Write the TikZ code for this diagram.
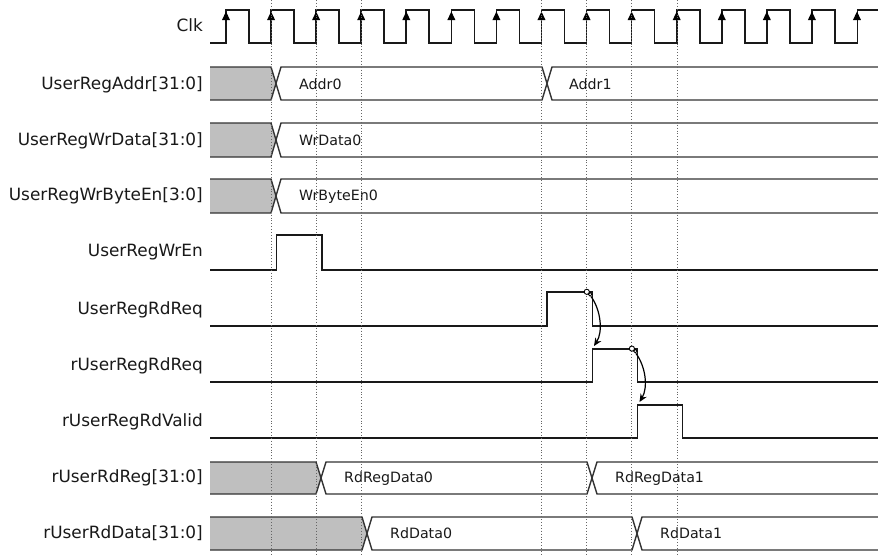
\documentclass[tikz,border=0pt]{standalone}
\usepackage{fontspec}
\setmainfont{DejaVu Sans}
\usetikzlibrary{arrows.meta}
\begin{document}
\begin{tikzpicture}[x=1pt,y=-1pt,
  siglabel/.style={anchor=base east,inner sep=0pt,font=\fontsize{16.9}{18}\selectfont,text=black!90},
  datalabel/.style={anchor=base west,inner sep=0pt,font=\fontsize{14.2}{16}\selectfont,text=black!90},
  wave/.style={line width=1.6pt,black!90,line join=miter},
  busline/.style={line width=1.4pt,black!80,line join=miter},
  busfill/.style={fill=black!25,draw=none},
  guide/.style={black!60,dotted,line width=0.9pt},
  cause/.style={line width=1.2pt,black,-{Stealth[length=8pt,width=7pt]}},
  dotmark/.style={draw=black,fill=white,line width=0.9pt}
]
\useasboundingbox (0,0) rectangle (878,555);
\fill[white] (0,0) rectangle (878,555);

% ---- labels ----
\node[siglabel] (lClk)  at (203,31.7)  {Clk};
\node[siglabel] (lAddr) at (203,89.3)  {UserRegAddr[31:0]};
\node[siglabel] (lWrD)  at (203,145)   {UserRegWrData[31:0]};
\node[siglabel] (lBE)   at (203,200.5) {UserRegWrByteEn[3:0]};
\node[siglabel] (lWrEn) at (203,256.5) {UserRegWrEn};
\node[siglabel] (lRdRq) at (203,314)   {UserRegRdReq};
\node[siglabel] (lrRq)  at (203,370)   {rUserRegRdReq};
\node[siglabel] (lrVal) at (203,426.5) {rUserRegRdValid};
\node[siglabel] (lrReg) at (203,482)   {rUserRdReg[31:0]};
\node[siglabel] (lrDat) at (203,538.5) {rUserRdData[31:0]};

% ---- clock ----
\draw[wave] (210,43)
  \foreach \n in {0,...,13} {
    -- ({226+45.07*\n},43) -- ({226+45.07*\n},10) -- ({249+45.07*\n},10) -- ({249+45.07*\n},43) }
  -- (857.4,43) -- (857.4,10) -- (878,10);
\foreach \n in {0,...,14} {
  \fill[black] ({226+45.07*\n},11.5) -- ({222+45.07*\n},20) -- ({230+45.07*\n},20) -- cycle;
}

% ---- UserRegAddr ----
\fill[busfill] (210,67) -- (271,67) -- (276,83.5) -- (271,100) -- (210,100) -- cycle;
\draw[busline] (210,67) -- (271,67) -- (281,100) -- (542,100) -- (552,67) -- (878,67);
\draw[busline] (210,100) -- (271,100) -- (281,67) -- (542,67) -- (552,100) -- (878,100);
\node[datalabel] (dAddr0) at (299,89.3) {Addr0};
\node[datalabel] (dAddr1) at (569,89.3) {Addr1};

% ---- UserRegWrData ----
\fill[busfill] (210,123) -- (271,123) -- (276,140) -- (271,157) -- (210,157) -- cycle;
\draw[busline] (210,123) -- (271,123) -- (281,157) -- (878,157);
\draw[busline] (210,157) -- (271,157) -- (281,123) -- (878,123);
\node[datalabel] (dWrD0) at (299,145) {WrData0};

% ---- UserRegWrByteEn ----
\fill[busfill] (210,179) -- (271,179) -- (276,196) -- (271,213) -- (210,213) -- cycle;
\draw[busline] (210,179) -- (271,179) -- (281,213) -- (878,213);
\draw[busline] (210,213) -- (271,213) -- (281,179) -- (878,179);
\node[datalabel] (dBE0) at (299,200.5) {WrByteEn0};

% ---- single-bit signals ----
\draw[wave] (210,270) -- (276.5,270) -- (276.5,235) -- (322,235) -- (322,270) -- (878,270);
\draw[wave] (210,326) -- (547,326) -- (547,292) -- (592.5,292) -- (592.5,326) -- (878,326);
\draw[wave] (210,382) -- (592.5,382) -- (592.5,349) -- (637.5,349) -- (637.5,382) -- (878,382);
\draw[wave] (210,438) -- (637.5,438) -- (637.5,405) -- (682.5,405) -- (682.5,438) -- (878,438);

% ---- rUserRdReg ----
\fill[busfill] (210,462) -- (316,462) -- (321,478) -- (316,494) -- (210,494) -- cycle;
\draw[busline] (210,462) -- (316,462) -- (326,494) -- (587,494) -- (597,462) -- (878,462);
\draw[busline] (210,494) -- (316,494) -- (326,462) -- (587,462) -- (597,494) -- (878,494);
\node[datalabel] (dReg0) at (344,482) {RdRegData0};
\node[datalabel] (dReg1) at (615,482) {RdRegData1};

% ---- rUserRdData ----
\fill[busfill] (210,517) -- (362,517) -- (367,533.5) -- (362,550) -- (210,550) -- cycle;
\draw[busline] (210,517) -- (362,517) -- (372,550) -- (632,550) -- (642,517) -- (878,517);
\draw[busline] (210,550) -- (362,550) -- (372,517) -- (632,517) -- (642,550) -- (878,550);
\node[datalabel] (dDat0) at (390,538.5) {RdData0};
\node[datalabel] (dDat1) at (660,538.5) {RdData1};

% ---- guide lines ----
\foreach \e in {271.1,316.2,361.3,541.7,586.8,631.9,677} {
  \draw[guide] (\e,0) -- (\e,555);
}

% ---- cause arrows ----
\coordinate (s1) at (591,296.5);
\coordinate (t1) at (594,346);
\draw[cause] (s1) .. controls (601,310) and (603,332) .. (t1);
\draw[dotmark] (586.8,291.8) circle (2.6);
\draw[dotmark] (590.2,294.3) circle (1.8);

\coordinate (s2) at (636,353.5);
\coordinate (t2) at (639.5,402);
\draw[cause] (s2) .. controls (646,367) and (648,388) .. (t2);
\draw[dotmark] (631.9,348.6) circle (2.6);
\draw[dotmark] (635.3,351.1) circle (1.8);
\end{tikzpicture}
\end{document}
